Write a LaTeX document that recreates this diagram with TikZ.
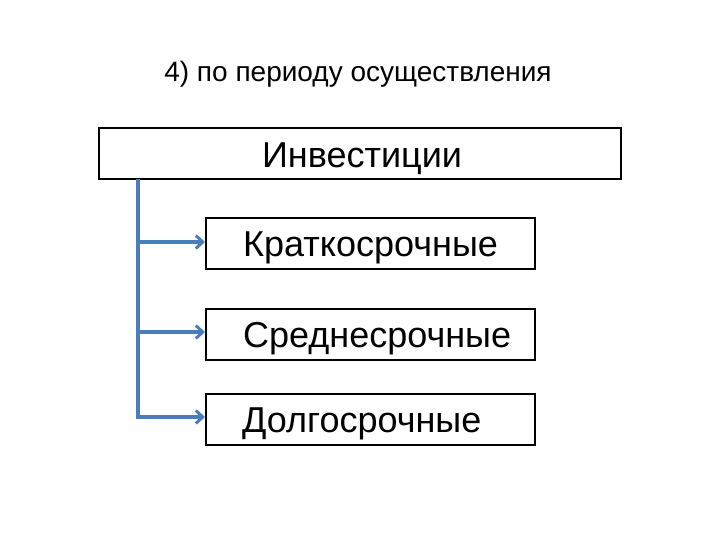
\documentclass[tikz,border=0pt]{standalone}
\usepackage{fontspec}
\setmainfont{Liberation Sans}
\usetikzlibrary{arrows.meta}
\definecolor{conn}{HTML}{4A7EBB}
\tikzset{
  box/.style={draw=black, line width=1.5pt, fill=white},
  boxtext/.style={font=\fontsize{36}{40}\selectfont, anchor=base west, inner sep=0pt},
  link/.style={draw=conn, line width=3.4pt},
  arr/.style={link, -{Straight Barb[length=7pt,width=13pt,line width=3pt]}}
}
\begin{document}
\begin{tikzpicture}[x=1pt,y=-1pt]
\useasboundingbox (0,0) rectangle (720,540);
\node[font=\fontsize{28}{32}\selectfont, anchor=base, inner sep=0pt] (title) at (358,82) {4) по периоду осуществления};
\draw[box] (99,128) rectangle (621,179);
\node[font=\fontsize{36}{40}\selectfont, anchor=base, inner sep=0pt] (inv) at (362,168) {Инвестиции};
\draw[box] (206,218) rectangle (535,269);
\node[boxtext] (k) at (243,256) {Краткосрочные};
\draw[box] (206,309) rectangle (535,360);
\node[boxtext] (s) at (243,347) {Среднесрочные};
\draw[box] (206,394) rectangle (535,445);
\node[boxtext] (d) at (242,432) {Долгосрочные};
\coordinate (v0) at (138,179);
\coordinate (v1) at (138,242);
\coordinate (v2) at (138,332);
\coordinate (v3) at (138,417);
\coordinate (e1) at (205,242);
\coordinate (e2) at (205,332);
\coordinate (e3) at (205,417);
\draw[link, line cap=butt] (v0) -- ([yshift=1.7pt]v3);
\draw[arr] ([xshift=-1.7pt]v1) -- (e1);
\draw[arr] ([xshift=-1.7pt]v2) -- (e2);
\draw[arr] ([xshift=-1.7pt]v3) -- (e3);
\end{tikzpicture}
\end{document}
